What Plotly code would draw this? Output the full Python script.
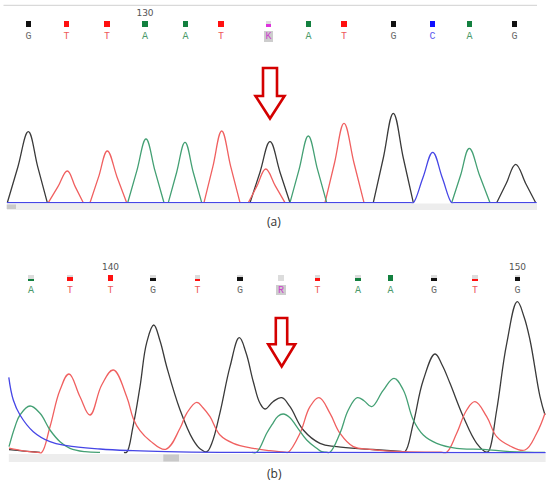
import plotly.graph_objects as go

# ---------------- data ----------------
# panel (a) base calls
calls_a = ["G", "T", "T", "A", "A", "T", "K", "A", "T", "G", "C", "A", "G"]
pos_a = [28.5, 66.5, 107, 145, 185.5, 221, 268.5, 308.5, 344, 393.5, 432.5, 469.5, 514.5]
qual_a = [1, 1, 1, 1, 1, 1, 0.45, 1, 1, 1, 1, 1, 1]
ruler_a_text = ["130"]
ruler_a_idx = [3]

# panel (b) base calls
calls_b = ["A", "T", "T", "G", "T", "G", "R", "T", "A", "A", "G", "T", "G"]
pos_b = [31, 70, 110.5, 153, 197.5, 240, 281, 317.5, 358, 390.5, 434, 475, 517.5]
qual_b = [0.25, 0.75, 1, 0.6, 0.3, 0.75, 0, 0.6, 0.6, 1, 0.6, 0.3, 0.75]
ruler_b_text = ["140", "150"]
ruler_b_idx = [2, 12]

# panel (a) traces (scan position, signal)
black_a_x = [7.3, 17.8, 28.3, 37.8, 47.3, None, 250, 260, 270, 280, 290, None,
             373.3, 383.3, 393.3, 403.3, 413.3, None, 496.7, 506.2, 515.7, 525.7, 535.7]
black_a_y = [0, 35.5, 71, 35.5, 0, None, 0, 30.5, 61, 30.5, 0, None,
             0, 44.7, 89.4, 44.7, 0, None, 0, 19.2, 38.4, 19.2, 0]
red_a_x = [48.3, 57.8, 67.3, 75.3, 83.3, None, 90, 98.6, 107.3, 117, 126.7, None,
           204, 212.8, 221.7, 230.8, 240, None, 248.3, 257, 265.7, 275.3, 285, None,
           325, 334.5, 344, 354, 364]
red_a_y = [0, 15.8, 31.7, 15.8, 0, None, 0, 25.8, 51.7, 25.8, 0, None,
           0, 35.8, 71.7, 35.8, 0, None, 0, 16.8, 33.7, 16.8, 0, None,
           0, 39.7, 79.4, 39.7, 0]
green_a_x = [127.7, 136.8, 146, 155, 164, None, 168.3, 176.6, 185, 193.3, 201.7, None,
             290, 299.1, 308.3, 317.5, 326.7, None, 451.7, 460.5, 469.3, 479.6, 490]
green_a_y = [0, 31.8, 63.7, 31.8, 0, None, 0, 30.2, 60.4, 30.2, 0, None,
             0, 33.3, 66.7, 33.3, 0, None, 0, 27.2, 54.4, 27.2, 0]
blue_a_x = [7, 411, 413.3, 423, 432.7, 442.2, 451.7, 454, 536.7]
blue_a_y = [0, 0, 0, 25.2, 50.4, 25.2, 0, 0, 0]

# panel (b) traces
black_b_x = [9, 24, 40, None,
             124, 126.7, 133, 140, 146.7, 153.7, 160, 166.7, 180, 193, 200, 206.7, 212, 220, 230,
             239.3, 246, 253.3, 260, 265, 273, 281.7, 290, 303.3, 320, 336.7, 370, 401, 405,
             413.3, 423.3, 435, 442, 450, 463.3, 476.7, 486.7, 489, 496.7, 506.7, 517.3, 524,
             530, 540, 545]
black_b_y = [3, 1.5, 0.3, None,
             0.3, 0.5, 26, 66, 110, 127.7, 112, 86, 43, 13, 4, 1, 10, 40, 86,
             115, 100, 71, 49.4, 43.7, 51, 55, 46, 22.7, 9.4, 6, 3.4, 1.2, 1,
             29.4, 72.7, 98.7, 88, 69.4, 36, 9.4, 0.5, 2, 42.7, 109, 151, 136,
             112.7, 56, 37.7]
red_b_x = [9, 25, 38, 41.7, 50, 60, 69, 80, 90, 101.7, 113.3, 126.7, 133.3, 140, 150, 165.7,
           180, 186.7, 196.7, 203, 210, 220, 233.3, 253.3, 270, 285, 288.3, 300, 310, 319, 330,
           340, 353.3, 370, 403, 441, 446.7, 456.7, 466.7, 475, 486.7, 496.7, 510, 525, 536.7, 545]
red_b_y = [4.5, 1.5, 0.3, 0.3, 26, 62.7, 78.7, 56, 37.7, 67.7, 82.7, 56, 34, 22, 12, 3.4,
           24.4, 39.4, 50.4, 45, 36, 17.7, 9.4, 4.4, 2, 0.5, 0.5, 19.4, 46, 55, 39.4,
           19.4, 6, 3.4, 1, 0.5, 0.5, 19.4, 42.7, 51, 36, 16, 6.7, 2.7, 19.4, 39.4]
green_b_x = [9, 15, 20, 30, 40, 50, 60, 70, 85, 100, None,
             252, 256.7, 266.7, 272, 278, 283.3, 290, 296.7, 306.7, 316.7, 321.7, 326, 330,
             340, 348.3, 357.3, 364, 371.7, 383, 394, 403.3, 413.3, 423.3, 436.7, 456.7,
             483.3, 510, 545]
green_b_y = [6, 26, 37.7, 46.7, 39.4, 22.7, 11, 4.4, 1, 0.3, None,
             0.3, 0.5, 19.4, 28, 36.5, 38.7, 35, 26, 12.7, 4.4, 1, 0.5, 0.5,
             19.4, 42.7, 55, 52, 46, 62, 74.4, 62.7, 32.7, 17.7, 9.4, 4.4,
             3.4, 1, 0.3]
blue_b_x = [8.8, 13.3, 20, 33.3, 50, 66.7, 100, 133, 166.7, 220, 545.6]
blue_b_y = [75.4, 52.7, 37.7, 21, 11, 7, 3.7, 2, 1, 0.3, 0]

# ---------------- styling ----------------
TRACE_COL = {"G": "#3a3a3a", "T": "#f06060", "A": "#44a074", "C": "#4646e6"}
LETTER_COL = {"G": "#6a6a6a", "T": "#ee5a5a", "A": "#4a9a6a", "C": "#5a5aee",
              "K": "#cc44cc", "R": "#cc44cc"}
QUAL_COL = {"G": "#111111", "T": "#ff1010", "A": "#13803f", "C": "#1010ff",
            "K": "#dd33dd", "R": "#dd33dd"}
AMBIG = ("K", "R")

W, H = 550, 485
fig = go.Figure()


def line_trace(x, y, col, yaxis):
    fig.add_trace(go.Scatter(x=x, y=y, mode="lines", yaxis=yaxis,
                             line=dict(color=col, width=1.3, shape="spline", smoothing=1.15),
                             connectgaps=False, hoverinfo="skip", showlegend=False))


line_trace(black_a_x, black_a_y, TRACE_COL["G"], "y")
line_trace(red_a_x, red_a_y, TRACE_COL["T"], "y")
line_trace(green_a_x, green_a_y, TRACE_COL["A"], "y")
line_trace(blue_a_x, blue_a_y, TRACE_COL["C"], "y")

line_trace(black_b_x, black_b_y, TRACE_COL["G"], "y2")
line_trace(red_b_x, red_b_y, TRACE_COL["T"], "y2")
line_trace(green_b_x, green_b_y, TRACE_COL["A"], "y2")
line_trace(blue_b_x, blue_b_y, TRACE_COL["C"], "y2")

# ---------- base-call rows (layout axis y3 in page rows) ----------
SQ = 5.8
rows = [(calls_a, pos_a, qual_a, 21.0, 36.5, ruler_a_text, ruler_a_idx, 13.5),
        (calls_b, pos_b, qual_b, 275.3, 290.3, ruler_b_text, ruler_b_idx, 267.7)]

for calls, pos, qual, sq_top, txt_y, rtext, ridx, r_y in rows:
    # grey quality background
    fig.add_trace(go.Bar(x=pos, y=[SQ] * len(pos), base=[sq_top] * len(pos), yaxis="y3",
                         width=5.4, marker=dict(color="#dcdcdc", line=dict(width=0)),
                         hoverinfo="skip", showlegend=False))
    # coloured quality part
    fig.add_trace(go.Bar(x=pos, y=[SQ * q for q in qual],
                         base=[sq_top + SQ * (1 - q) for q in qual], yaxis="y3",
                         width=5.4, marker=dict(color=[QUAL_COL[c] for c in calls], line=dict(width=0)),
                         hoverinfo="skip", showlegend=False))
    # grey box behind ambiguous base
    amb_x = [p for p, c in zip(pos, calls) if c in AMBIG]
    fig.add_trace(go.Bar(x=amb_x, y=[10.5] * len(amb_x), base=[txt_y - 5.5] * len(amb_x),
                         yaxis="y3", width=9.5,
                         marker=dict(color="#cdcdcd", line=dict(width=0)),
                         hoverinfo="skip", showlegend=False))
    # letters
    fig.add_trace(go.Scatter(x=pos, y=[txt_y] * len(pos), mode="text", text=calls, yaxis="y3",
                             textfont=dict(family="Liberation Mono", size=10,
                                           color=[LETTER_COL[c] for c in calls]),
                             hoverinfo="skip", showlegend=False, cliponaxis=False))
    # ruler numbers
    fig.add_trace(go.Scatter(x=[pos[i] for i in ridx], y=[r_y] * len(ridx), mode="text",
                             text=rtext, yaxis="y3",
                             textfont=dict(family="DejaVu Sans", size=9, color="#555555"),
                             hoverinfo="skip", showlegend=False, cliponaxis=False))

# ---------------- decorations ----------------
shapes = [
    # thin grey rule at top
    dict(type="line", xref="x", yref="y3", x0=3.5, x1=537, y0=5.3, y1=5.3,
         line=dict(color="#d0d0d0", width=1), layer="below"),
    # grey scroll bars under the traces
    dict(type="rect", xref="x", yref="y3", x0=7, x1=537, y0=203.5, y1=210,
         fillcolor="#ededed", line=dict(width=0), layer="below"),
    dict(type="rect", xref="x", yref="y3", x0=6.7, x1=16, y0=204.5, y1=209,
         fillcolor="#c9c9c9", line=dict(width=0), layer="below"),
    dict(type="rect", xref="x", yref="y3", x0=8.8, x1=545.6, y0=454, y1=462,
         fillcolor="#ededed", line=dict(width=0), layer="below"),
    dict(type="rect", xref="x", yref="y3", x0=163.3, x1=179, y0=454.5, y1=461.5,
         fillcolor="#c9c9c9", line=dict(width=0), layer="below"),
    # arrows
    dict(type="path", xref="x", yref="y3",
         path="M 263 68 L 277 68 L 277 96 L 284.5 96 L 270 118.5 L 255.5 96 L 263 96 Z",
         fillcolor="white", line=dict(color="#d40000", width=2.6)),
    dict(type="path", xref="x", yref="y3",
         path="M 275.8 318 L 287.2 318 L 287.2 344.3 L 295.2 344.3 L 281.7 366.5 L 268.2 344.3 L 275.8 344.3 Z",
         fillcolor="white", line=dict(color="#d40000", width=2.6)),
]

annotations = [
    dict(text="(a)", x=274, y=221.7, xref="x", yref="y3", showarrow=False,
         font=dict(family="Open Sans", size=12, color="#333333")),
    dict(text="(b)", x=274, y=473.3, xref="x", yref="y3", showarrow=False,
         font=dict(family="Open Sans", size=12, color="#333333")),
]


def dom(py_bottom, py_top):
    return [(H - py_bottom) / H, (H - py_top) / H]


fig.update_layout(
    width=W, height=H, autosize=False,
    margin=dict(l=0, r=0, t=0, b=0),
    paper_bgcolor="white", plot_bgcolor="rgba(0,0,0,0)",
    barmode="overlay", bargap=0,
    showlegend=False,
    xaxis=dict(range=[0, W], domain=[0, 1], visible=False, fixedrange=True),
    yaxis=dict(range=[-5, 100], domain=dom(207.7, 102.7), visible=False, fixedrange=True),
    yaxis2=dict(range=[-5, 160], domain=dom(457.7, 292.7), visible=False, fixedrange=True,
                anchor="x"),
    yaxis3=dict(range=[H, 0], domain=[0, 1], visible=False, fixedrange=True, anchor="x"),
    shapes=shapes,
    annotations=annotations,
)

fig.write_html("out.html", config={"displayModeBar": False},
               post_script="document.body.style.margin='0px';document.body.style.overflow='hidden';")
